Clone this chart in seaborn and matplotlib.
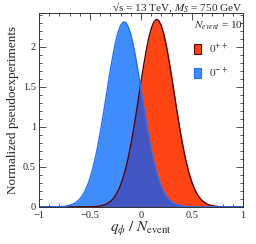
import numpy as np
import pandas as pd
import matplotlib
matplotlib.use("Agg")
import matplotlib.pyplot as plt
import seaborn as sns
from matplotlib.patches import Patch
from matplotlib.ticker import MultipleLocator

# ---- data ----
q = [round(-1 + 0.025 * i, 3) for i in range(81)]
blue_0mp = [0, 0, 0, 0, 0, 0, 0.001, 0.002, 0.003, 0.005,
            0.008, 0.012, 0.019, 0.030, 0.045, 0.067, 0.098, 0.139, 0.194, 0.265,
            0.354, 0.464, 0.595, 0.747, 0.919, 1.106, 1.304, 1.506, 1.705, 1.887,
            2.047, 2.175, 2.263, 2.306, 2.301, 2.249, 2.153, 2.018, 1.852, 1.665,
            1.466, 1.264, 1.067, 0.883, 0.715, 0.567, 0.440, 0.335, 0.249, 0.182,
            0.130, 0.091, 0.062, 0.042, 0.027, 0.018, 0.011, 0.007, 0.004, 0.002,
            0.001, 0, 0, 0, 0, 0, 0, 0, 0, 0,
            0, 0, 0, 0, 0, 0, 0, 0, 0, 0, 0]
red_0pp = [0, 0, 0, 0, 0, 0, 0, 0, 0, 0,
           0, 0, 0, 0, 0, 0, 0, 0, 0.001, 0.001,
           0.002, 0.003, 0.004, 0.007, 0.012, 0.019, 0.030, 0.046, 0.068, 0.099,
           0.142, 0.198, 0.271, 0.364, 0.477, 0.613, 0.770, 0.947, 1.141, 1.345,
           1.552, 1.753, 1.938, 2.098, 2.222, 2.304, 2.340, 2.324, 2.260, 2.152,
           2.006, 1.829, 1.633, 1.428, 1.222, 1.022, 0.839, 0.672, 0.528, 0.406,
           0.306, 0.225, 0.162, 0.115, 0.079, 0.054, 0.035, 0.023, 0.015, 0.009,
           0.006, 0.003, 0.002, 0.001, 0.001, 0, 0, 0, 0, 0, 0]
labels = ["$0^{++}$", "$0^{-+}$"]

df = pd.DataFrame({"q": q, "red": red_0pp, "blue": blue_0mp})

sns.set_style("ticks")
plt.rcParams["font.family"] = ["Liberation Serif", "DejaVu Serif"]
plt.rcParams["mathtext.fontset"] = "stix"

fig = plt.figure(figsize=(2.56, 2.44), dpi=100)
ax = fig.add_axes([0.152, 0.152, 0.797, 0.795])

red_c = "#ff4514"
blue_c = "#3f8dfc"
over_c = "#4156c2"
ax.fill_between(df["q"], 0, df["red"], color=red_c, lw=0)
ax.fill_between(df["q"], 0, df["blue"], color=blue_c, lw=0)
ax.fill_between(df["q"], 0, np.minimum(df["red"], df["blue"]), color=over_c, lw=0)
sns.lineplot(data=df, x="q", y="red", ax=ax, color="#5a0000", lw=1.0)
sns.lineplot(data=df, x="q", y="blue", ax=ax, color="#1f6fff", lw=1.0)

ax.set_xlim(-1, 1)
ax.set_ylim(0, 2.42)
ax.xaxis.set_major_locator(MultipleLocator(0.5))
ax.xaxis.set_minor_locator(MultipleLocator(0.1))
ax.yaxis.set_major_locator(MultipleLocator(0.5))
ax.yaxis.set_minor_locator(MultipleLocator(0.1))
ax.xaxis.set_major_formatter(plt.FuncFormatter(lambda v, p: ("%g" % v).replace("-", "\u2212")))
ax.yaxis.set_major_formatter(plt.FuncFormatter(lambda v, p: "%g" % v))
ax.tick_params(which="both", direction="in", top=True, right=True, labelsize=7.5,
               pad=2.2, width=0.6, color="#333333")
ax.tick_params(axis="x", which="both", pad=3)
ax.tick_params(which="major", length=5)
ax.tick_params(which="minor", length=2.5)
for s in ax.spines.values():
    s.set_linewidth(0.7)
    s.set_color("#333333")

ax.set_xlabel(r"$q_{\phi}\ /\ N_{\rm event}$", fontsize=11, labelpad=0)
ax.set_ylabel("Normalized pseudoexperiments", fontsize=9.5, labelpad=3)
fig.text(0.949, 0.999, "\u221as = 13 TeV, $M_S$ = 750 GeV", fontsize=8.1,
         ha="right", va="top")

handles = [Patch(facecolor=red_c, edgecolor="#5a0000", lw=0.8),
           Patch(facecolor=blue_c, edgecolor="#1f6fff", lw=0.8)]
leg = ax.legend(handles, labels, title=r"$N_{event}$ = 10", loc="upper right",
                frameon=False, fontsize=8, title_fontsize=8, handlelength=0.65,
                handleheight=1.0, handletextpad=0.7, labelspacing=0.9,
                borderaxespad=0.0, borderpad=0.2, bbox_to_anchor=(1.01, 0.98))
leg._legend_box.align = "left"

fig.savefig("out.png", dpi=100)
